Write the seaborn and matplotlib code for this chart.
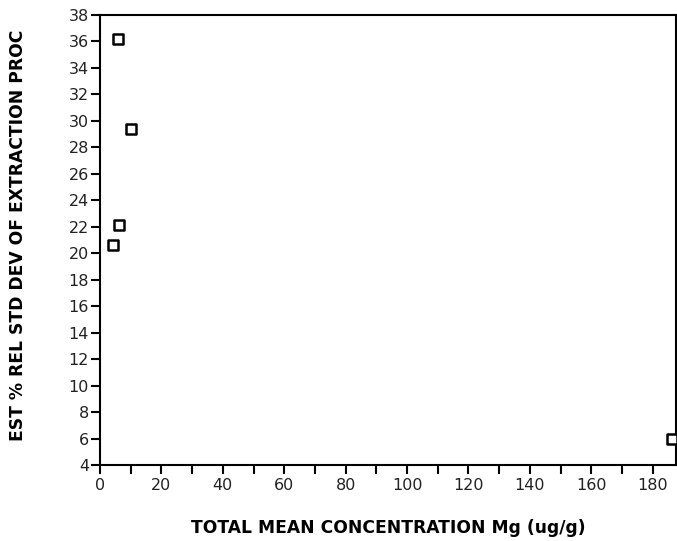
import matplotlib
matplotlib.use("Agg")
import matplotlib.pyplot as plt
import seaborn as sns
import pandas as pd
from matplotlib.ticker import MultipleLocator

concentration = [5.9, 10.0, 6.1, 4.3, 186.4]
rel_std_dev = [36.2, 29.35, 22.15, 20.65, 5.95]
x_label = "TOTAL MEAN CONCENTRATION Mg (ug/g)"
y_label = "EST % REL STD DEV OF EXTRACTION PROC"

df = pd.DataFrame({"x": concentration, "y": rel_std_dev})

sns.set_style("ticks")
plt.rcParams['font.family'] = ['DejaVu Sans']
plt.rcParams['text.color'] = 'black'

fig = plt.figure(figsize=(6.77, 5.41), dpi=100)
ax = fig.add_axes([100/677, 76/541, 576/677, 450/541])

sns.scatterplot(data=df, x="x", y="y", marker="s", s=60,
                facecolor="white", edgecolor="black", linewidth=1.8,
                ax=ax, clip_on=False, zorder=3)

ax.set_xlim(0, 187.6)
ax.set_ylim(4, 38)
ax.xaxis.set_major_locator(MultipleLocator(20))
ax.xaxis.set_minor_locator(MultipleLocator(10))
ax.yaxis.set_major_locator(MultipleLocator(2))
ax.tick_params(axis="both", which="both", direction="out", length=6.5, width=1.5,
               labelsize=11.5, colors="black", labelcolor="#222222")
ax.tick_params(axis="x", which="major", pad=3)
ax.tick_params(axis="y", which="major", pad=1.5)
for s in ax.spines.values():
    s.set_linewidth(1.5)
    s.set_color("black")
    s.set_visible(True)
ax.set_xlabel(x_label, fontsize=12.3, fontweight="bold", color="black")
ax.set_ylabel(y_label, fontsize=12.3, fontweight="bold", color="black")
ax.xaxis.label.set_va("center")
ax.yaxis.label.set_va("center")
ax.xaxis.set_label_coords(0.5, -0.14)
ax.yaxis.set_label_coords(-0.1432, 0.511)

fig.savefig("out.png", dpi=100)
